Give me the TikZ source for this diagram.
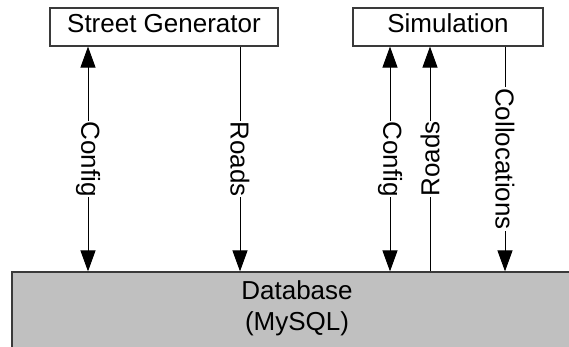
\documentclass[tikz,border=0pt]{standalone}
\usepackage{fontspec}
\setmainfont{Liberation Sans}
\usepackage{xcolor}
\definecolor{dbgray}{HTML}{C0C0C0}
\definecolor{edge}{HTML}{3A3A3A}
\usetikzlibrary{arrows.meta}

\begin{document}
\begin{tikzpicture}[x=0.5pt, y=-0.5pt,
  >={Triangle[length=10.5pt, width=7.5pt]},
  box/.style={draw=edge, line width=0.6pt, inner sep=0pt, minimum height=19pt,
    text depth=4pt, font=\fontsize{13}{15}\selectfont},
  flow/.style={line width=0.5pt},
  tag/.style={fill=white, inner sep=0.4pt, font=\fontsize{13}{15}\selectfont}]
  % page
  \useasboundingbox (0,0) rectangle (569,347);
  \clip (0,0) rectangle (569,347);

  % components
  \node[box, fill=white, minimum width=114pt] (gen) at (164,27) {Street Generator};
  \node[box, fill=white, minimum width=95pt]  (sim) at (448,27) {Simulation};
  \node[box, fill=dbgray, minimum width=285pt, minimum height=40pt, text depth=6.5pt,
    align=center, font=\fontsize{13}{15.3}\selectfont] (db) at (297,312) {Database\\(MySQL)};

  % line positions
  \coordinate (cfgA)  at (88,0);
  \coordinate (roadA) at (240,0);
  \coordinate (cfgB)  at (390,0);
  \coordinate (roadB) at (430,0);
  \coordinate (coll)  at (505,0);

  % Street Generator <-> Database
  \draw[flow, <->] (cfgA |- gen.south) -- node[tag, rotate=-90] {Config} (cfgA |- db.north);
  \draw[flow, ->] (roadA |- gen.south) -- node[tag, rotate=-90] {Roads} (roadA |- db.north);

  % Simulation <-> Database
  \draw[flow, <->] (cfgB |- sim.south) -- node[tag, rotate=-90] {Config} (cfgB |- db.north);
  \draw[flow, <-] (roadB |- sim.south) -- node[tag, rotate=90] {Roads} (roadB |- db.north);
  \draw[flow, ->] (coll |- sim.south) -- node[tag, rotate=-90] {Collocations} (coll |- db.north);
\end{tikzpicture}
\end{document}
